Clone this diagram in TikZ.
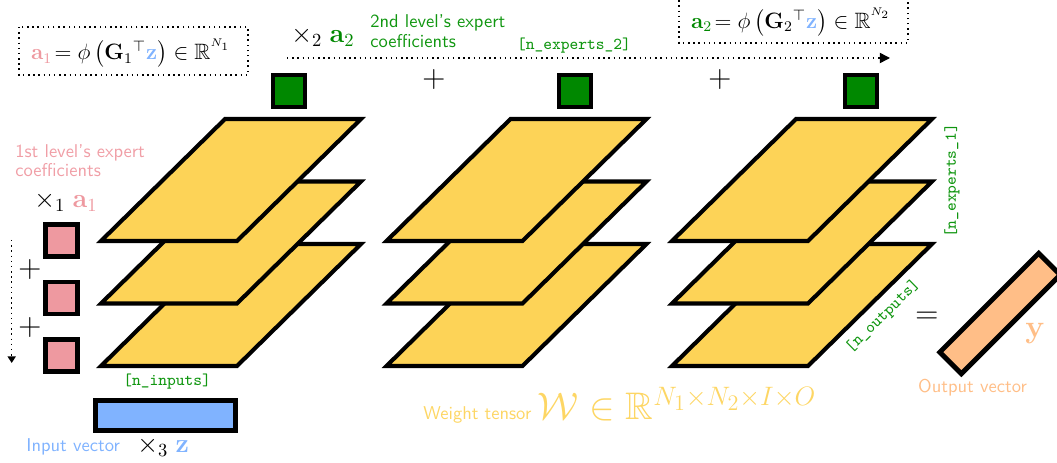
\documentclass[tikz,border=0pt]{standalone}
\usepackage{amsmath,amssymb}
\usetikzlibrary{arrows.meta}
\definecolor{sheetyellow}{RGB}{253,211,87}
\definecolor{pinkc}{RGB}{238,153,160}
\definecolor{pinktext}{RGB}{240,158,166}
\definecolor{bluec}{RGB}{128,179,255}
\definecolor{greenc}{RGB}{0,136,0}
\definecolor{greentext}{RGB}{16,150,16}
\definecolor{orangec}{RGB}{255,190,135}
\definecolor{yellowtext}{RGB}{253,214,100}
\tikzset{
  sheetstyle/.style={draw=black,fill=sheetyellow,line width=2.2pt},
  gsq/.style={draw=black,fill=greenc,line width=2.2pt,minimum size=17.3pt,inner sep=0pt},
  psq/.style={draw=black,fill=pinkc,line width=2.2pt,minimum size=17.3pt,inner sep=0pt},
  vecbox/.style={draw=black,line width=2.6pt,minimum width=75.5pt,minimum height=16.5pt,inner sep=0pt},
  formframe/.style={draw=black,dotted,thick},
  formtext/.style={inner sep=0pt,font=\large,anchor=base},
  monolabel/.style={font=\ttfamily\small,text=greentext,inner sep=0pt},
  optext/.style={inner sep=0pt,font=\LARGE},
  dotarrow/.style={dotted,thick,-{Triangle[length=5.5pt,width=5.5pt]}},
}
\begin{document}
\begin{tikzpicture}[x=0.54pt,y=-0.54pt]
\useasboundingbox (0,0) rectangle (1057,463);
% weight tensor stacks
\foreach \sx in {0,285.5,571}{
  \foreach \sy in {125,62.5,0}{
    \draw[sheetstyle] (101+\sx,241+\sy) -- ++(136,0) -- ++(124,-122) -- ++(-136,0) -- cycle;
  }
}
% second level coefficient squares
\node[gsq] (g1) at (289,91) {};
\node[gsq] (g2) at (575,91) {};
\node[gsq] (g3) at (861,91) {};
\node[optext] (plus1) at (434,80) {$+$};
\node[optext] (plus2) at (720,80) {$+$};
% first level coefficient squares
\node[psq] (p1) at (61.5,240.5) {};
\node[psq] (p2) at (61.5,298) {};
\node[psq] (p3) at (61.5,355.5) {};
\node[optext] (plus3) at (30,270) {$+$};
\node[optext] (plus4) at (30,328) {$+$};
% arrows
\coordinate (ds) at (11.7,240);
\coordinate (de) at (11.7,363);
\draw[dotted,thick,-{Triangle[length=3.6pt,width=4.4pt]}] (ds) -- (de);
\coordinate (hs) at (287,58);
\coordinate (he) at (890,58);
\draw[dotarrow] (hs) -- (he);
% formula boxes
\draw[formframe] (19,27) rectangle (248,75);
\draw[formframe] (679,-5) rectangle (908,43);
\node[formtext] (f1) at (131,60) {$\textcolor{pinkc}{\mathbf{a}_1}\!= \phi\left(\mathbf{G}_1{}^{\top}\textcolor{bluec}{\mathbf{z}}\right) \in \mathbb{R}^{^{N_1}}$};
\node[formtext] (f2) at (791,28.5) {$\textcolor{greenc}{\mathbf{a}_2}\!= \phi\left(\mathbf{G}_2{}^{\top}\textcolor{bluec}{\mathbf{z}}\right) \in \mathbb{R}^{^{N_2}}$};
% labels
\node[anchor=north west,inner sep=0pt,align=left,text=pinktext,font=\sffamily\fontsize{10}{10.5}\selectfont] (l1) at (15,143.8) {1st level's expert\\coefficients};
\node[anchor=north west,inner sep=0pt,align=left,text=greentext,font=\sffamily\fontsize{10}{10.5}\selectfont] (l2) at (370,14.4) {2nd level's expert\\coefficients};
\node[anchor=base west,inner sep=0pt,font=\Large] (m1) at (34,208) {$\times_1\;\textcolor{pinkc}{\mathbf{a}_1}$};
\node[anchor=base west,inner sep=0pt,font=\Large] (m2) at (291,43) {$\times_2\;\textcolor{greenc}{\mathbf{a}_2}$};
\node[monolabel] (ne2) at (574,46) {[n\_experts\_2]};
\node[monolabel,rotate=90] (ne1) at (952,181) {[n\_experts\_1]};
\node[monolabel,rotate=44.5] (no) at (883,316.5) {[n\_outputs]};
\node[monolabel] (ni) at (167,382) {[n\_inputs]};
% input vector
\node[vecbox,fill=bluec] (zin) at (165.5,415.5) {};
\node[anchor=base west,inner sep=0pt,text=bluec,font=\sffamily] (iv) at (26,451) {Input vector};
\node[anchor=base west,inner sep=0pt,font=\Large] (m3) at (137,452) {$\times_3\;\textcolor{bluec}{\mathbf{z}}$};
% output
\node[optext] (eq) at (927,318) {$=$};
\node[vecbox,fill=orangec,rotate=45] (yout) at (1000,313.5) {};
\node[anchor=base,inner sep=0pt,text=orangec,font=\LARGE] (ysym) at (1035,338) {$\mathbf{y}$};
\node[inner sep=0pt,text=orangec,font=\sffamily] (ov) at (972.5,388) {Output vector};
% weight tensor caption
\node[anchor=base west,inner sep=0pt,text=yellowtext,font=\sffamily] (wt) at (423,419.5) {Weight tensor {\huge$\mathcal{W}\in\mathbb{R}^{N_1\times N_2\times I\times O}$}};
\end{tikzpicture}
\end{document}
